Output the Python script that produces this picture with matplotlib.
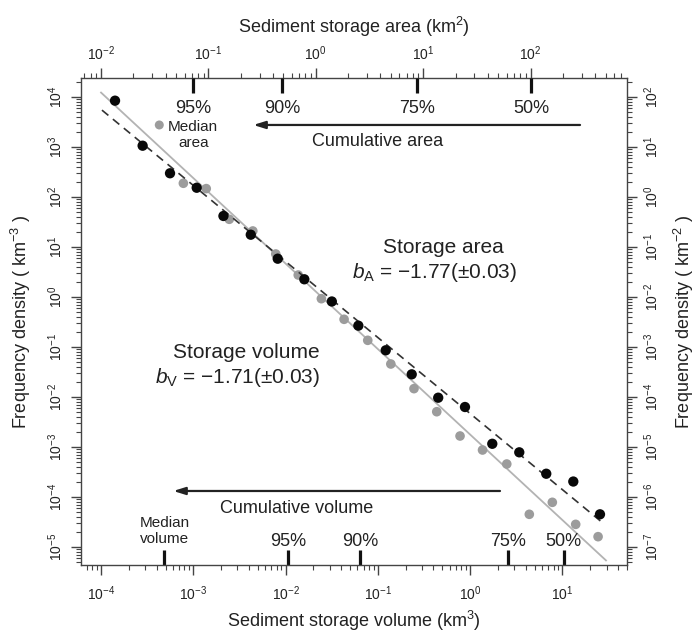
import numpy as np
import matplotlib.pyplot as plt
from matplotlib.ticker import LogLocator, NullFormatter

plt.rcParams['font.family'] = ['Liberation Sans', 'DejaVu Sans']
plt.rcParams['mathtext.fontset'] = 'custom'
plt.rcParams['mathtext.rm'] = 'Liberation Sans'
plt.rcParams['mathtext.it'] = 'Liberation Sans:italic'
plt.rcParams['mathtext.bf'] = 'Liberation Sans:bold'

# storage area (km2) vs frequency density (km-2)  -> black dots
area = [0.0135, 0.0244, 0.0439, 0.0778, 0.138, 0.248, 0.442, 0.782, 1.41, 2.49,
        4.48, 7.82, 13.8, 24.5, 44.0, 78.5, 140, 250, 443]
area_dens = [84.3, 10.6, 2.98, 1.53, 0.417, 0.176, 0.0583, 0.0226, 8.13e-3, 2.67e-3,
             8.59e-4, 2.84e-4, 9.68e-5, 6.31e-5, 1.16e-5, 7.83e-6, 2.92e-6, 2.04e-6, 4.51e-7]

# storage volume (km3) vs frequency density (km-3)  -> grey dots
volume = [7.80e-4, 1.38e-3, 2.45e-3, 4.41e-3, 7.82e-3, 0.0137, 0.0244, 0.0430, 0.0776,
          0.138, 0.246, 0.434, 0.776, 1.36, 2.49, 4.37, 7.76, 13.9, 24.3]
vol_dens = [188, 147, 35.8, 20.9, 7.24, 2.75, 0.925, 0.358, 0.136, 0.0457, 0.0147,
            5.08e-3, 1.66e-3, 8.71e-4, 4.57e-4, 4.51e-5, 7.83e-5, 2.84e-5, 1.61e-5]

# power-law fits: density = c * x**b
b_area, c_area = -1.77, 0.0163
b_vol, c_vol = -1.71, 0.00177
area_fit_x = [0.0102, 459]
vol_fit_x = [1.0e-4, 29.6]

# cumulative percentiles
area_pct = [0.0715, 0.483, 8.8, 101]
area_pct_lab = ['95%', '90%', '75%', '50%']
vol_pct = [0.0106, 0.0643, 2.59, 10.3]
vol_pct_lab = ['95%', '90%', '75%', '50%']
vol_median = 4.85e-4

fig = plt.figure(figsize=(6.99, 6.37), dpi=100)
rect = [0.1155, 0.113, 0.7815, 0.7646]
ax = fig.add_axes(rect)
ax2 = fig.add_axes(rect)
ax2.patch.set_visible(False)

txt = '#222222'
for a in (ax, ax2):
    a.set_xscale('log')
    a.set_yscale('log')

ax.set_xlim(10**-4.22, 10**1.699)
ax.set_ylim(10**-5.36, 10**4.38)
ax2.set_xlim(10**-2.189, 10**2.898)
ax2.set_ylim(10**-7.36, 10**2.38)

for a in (ax, ax2):
    for axis in (a.xaxis, a.yaxis):
        axis.set_major_locator(LogLocator(base=10, numticks=40))
        axis.set_minor_locator(LogLocator(base=10, subs=np.arange(2, 10), numticks=40))
        axis.set_minor_formatter(NullFormatter())

for s in ax2.spines.values():
    s.set_visible(False)
for s in ax.spines.values():
    s.set_color('#444444')
    s.set_linewidth(1.0)

ax.tick_params(which='major', length=7, width=1, color='#444444', labelsize=10,
               labelcolor=txt, pad=4)
ax.tick_params(axis='x', which='major', pad=7)
ax.tick_params(which='minor', length=3.5, width=0.8, color='#444444')
ax.tick_params(axis='y', labelrotation=90)
ax2.xaxis.tick_top()
ax2.yaxis.tick_right()
ax2.xaxis.set_label_position('top')
ax2.yaxis.set_label_position('right')
ax2.tick_params(which='major', length=7, width=1, color='#444444', labelsize=10,
                labelcolor=txt, pad=4)
ax2.tick_params(which='minor', length=3.5, width=0.8, color='#444444')
ax2.tick_params(axis='y', labelrotation=90)
for lab in ax.get_yticklabels() + ax2.get_yticklabels():
    lab.set_verticalalignment('center')

# volume (grey)
vx = np.array(vol_fit_x)
ax.plot(vx, c_vol * vx**b_vol, color='#b3b3b3', lw=1.3, zorder=1)
ax.scatter(volume, vol_dens, s=48, color='#9c9c9c', edgecolors='none', zorder=2)

# area (black)
axx = np.array(area_fit_x)
ax2.plot(axx, c_area * axx**b_area, color='#333333', lw=1.2, ls=(0, (5, 3.5)), zorder=1)
ax2.scatter(area, area_dens, s=55, color='#080808', edgecolors='none', zorder=3)

ax.set_xlabel('Sediment storage volume (km$^3$)', fontsize=13, color=txt, labelpad=4)
ax.set_ylabel('Frequency density ( km$^{-3}$ )', fontsize=13, color=txt, labelpad=10)
ax2.set_xlabel('Sediment storage area (km$^2$)', fontsize=13, color=txt, labelpad=8)
ax2.set_ylabel('Frequency density ( km$^{-2}$ )', fontsize=13, color=txt, labelpad=8)

# percentile marks along top (area) and bottom (volume)
ax2.vlines(area_pct, 0.969, 1.0, transform=ax2.get_xaxis_transform(), color='#111111', lw=2.3)
for xv, lab in zip(area_pct, area_pct_lab):
    ax2.text(xv, 0.938, lab, transform=ax2.get_xaxis_transform(), ha='center', va='center',
             fontsize=13, color=txt)
ax.vlines(vol_pct + [vol_median], 0.0, 0.031, transform=ax.get_xaxis_transform(),
          color='#111111', lw=2.3)
for xv, lab in zip(vol_pct, vol_pct_lab):
    ax.text(xv, 0.048, lab, transform=ax.get_xaxis_transform(), ha='center', va='center',
            fontsize=13, color=txt)
ax.text(vol_median, 0.07, 'Median\nvolume', transform=ax.get_xaxis_transform(),
        ha='center', va='center', fontsize=11, color=txt, linespacing=1.2)

# median area marker + label
ax.scatter([0.1438], [0.9035], s=42, color='#9c9c9c', edgecolors='none',
           transform=ax.transAxes, zorder=3, clip_on=False)
ax.text(0.2059, 0.883, 'Median\narea', transform=ax.transAxes, ha='center', va='center',
        fontsize=11, color=txt, linespacing=1.2)

# cumulative arrows
arrow = dict(arrowstyle='-|>,head_length=0.7,head_width=0.22', color='#222222', lw=1.6,
             shrinkA=0, shrinkB=0)
ax.annotate('', xy=(0.316, 0.9035), xytext=(0.914, 0.9035), xycoords='axes fraction',
            arrowprops=arrow)
ax.text(0.543, 0.8686, 'Cumulative area', transform=ax.transAxes, ha='center', va='center',
        fontsize=13, color=txt)
ax.annotate('', xy=(0.1695, 0.152), xytext=(0.7675, 0.152), xycoords='axes fraction',
            arrowprops=arrow)
ax.text(0.396, 0.117, 'Cumulative volume', transform=ax.transAxes, ha='center', va='center',
        fontsize=13, color=txt)

# fit annotations
ax.text(0.663, 0.6515, 'Storage area', transform=ax.transAxes, ha='center', va='center',
        fontsize=15, color=txt)
ax.text(0.6486, 0.5996, '$b_{\\mathrm{A}}$ = \u22121.77(\u00b10.03)',
        transform=ax.transAxes, ha='center', va='center', fontsize=15, color=txt)
ax.text(0.3026, 0.436, 'Storage volume', transform=ax.transAxes, ha='center', va='center',
        fontsize=15, color=txt)
ax.text(0.288, 0.384, '$b_{\\mathrm{V}}$ = \u22121.71(\u00b10.03)',
        transform=ax.transAxes, ha='center', va='center', fontsize=15, color=txt)

fig.savefig('out.png', dpi=100)
